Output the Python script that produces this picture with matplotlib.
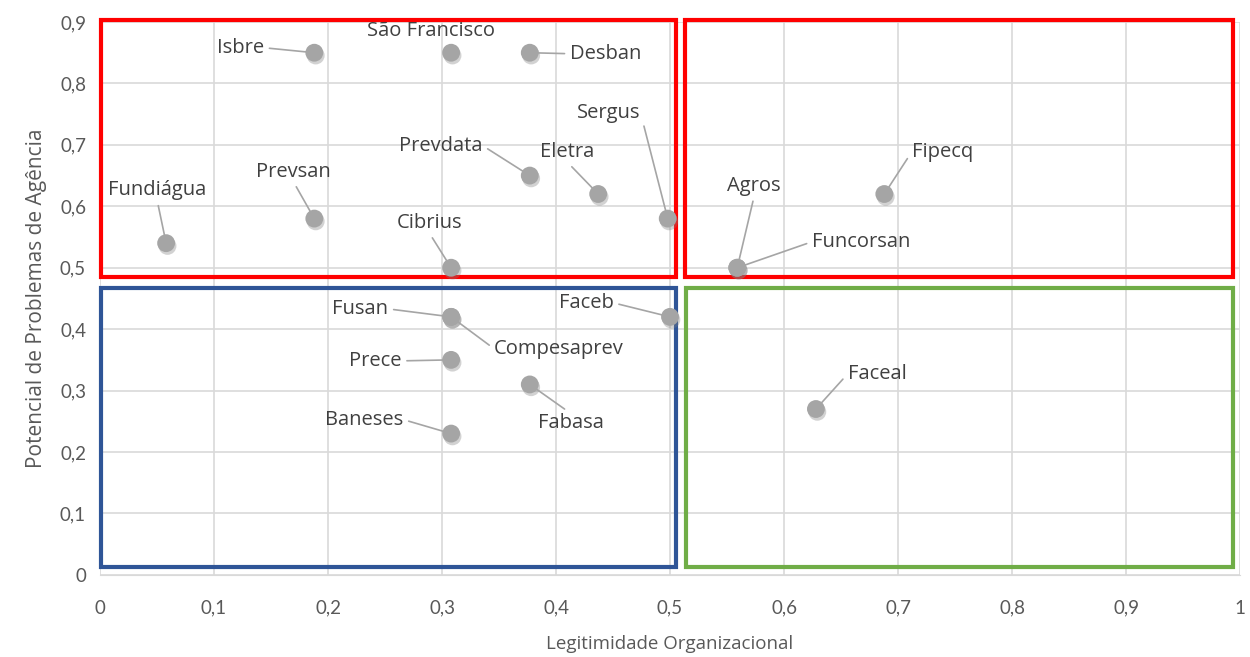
import matplotlib
matplotlib.use("Agg")
import matplotlib.pyplot as plt
import matplotlib.patheffects as pe
from matplotlib.patches import Rectangle

plt.rcParams['font.family'] = ['Lato', 'DejaVu Sans']

names = ['Isbre', 'São Francisco', 'Desban', 'Fundiágua', 'Prevsan', 'Cibrius',
         'Prevdata', 'Eletra', 'Sergus', 'Agros', 'Funcorsan', 'Fipecq',
         'Fusan', 'Compesaprev', 'Faceb', 'Prece', 'Fabasa', 'Baneses', 'Faceal']
legitimidade = [0.188, 0.308, 0.377, 0.058, 0.188, 0.308,
                0.377, 0.437, 0.498, 0.559, 0.559, 0.688,
                0.308, 0.308, 0.5, 0.308, 0.377, 0.308, 0.628]
potencial = [0.85, 0.85, 0.85, 0.54, 0.58, 0.50,
             0.65, 0.62, 0.58, 0.50, 0.50, 0.62,
             0.42, 0.42, 0.42, 0.35, 0.31, 0.23, 0.27]

x_ticks = [0, 0.1, 0.2, 0.3, 0.4, 0.5, 0.6, 0.7, 0.8, 0.9, 1.0]
y_ticks = [0, 0.1, 0.2, 0.3, 0.4, 0.5, 0.6, 0.7, 0.8, 0.9]

# label placement: offset in pixels from the point, and where the leader leaves the text
label_pos = {
    'Isbre': ((-74, 5), (1, 0.5)),
    'São Francisco': ((-20, 22), None),
    'Desban': ((76, -1), (0, 0.5)),
    'Fundiágua': ((-9, 53), (0.5, 0)),
    'Prevsan': ((-21, 47), (0.5, 0)),
    'Cibrius': ((-22, 45), (0.5, 0)),
    'Prevdata': ((-89, 30), (1, 0.5)),
    'Eletra': ((-31, 42), (0.5, 0)),
    'Sergus': ((-59, 106), (1, 0.5)),
    'Agros': ((17, 82), (0.5, 0)),
    'Funcorsan': ((124, 26), (0, 0.5)),
    'Fipecq': ((58, 42), (0, 0.5)),
    'Fusan': ((-91, 8), (1, 0.5)),
    'Compesaprev': ((108, -32), (0, 0.5)),
    'Faceb': ((-84, 14), (1, 0.5)),
    'Prece': ((-76, -1), (1, 0.5)),
    'Fabasa': ((41, -39), (0.5, 1)),
    'Baneses': ((-87, 14), (1, 0.5)),
    'Faceal': ((61, 35), (0, 0.5)),
}

fig = plt.figure(figsize=(12.5, 6.57), dpi=100)
ax = fig.add_axes([0.08, 0.125, 0.912, 0.8415])

ax.set_xlim(0, 1)
ax.set_ylim(0, 0.9)
ax.set_xticks(x_ticks)
ax.set_yticks(y_ticks)
fmt = lambda v: '0' if v == 0 else ('1' if v == 1 else f'{v:.1f}'.replace('.', ','))
ax.set_xticklabels([fmt(v) for v in x_ticks])
ax.set_yticklabels([fmt(v) for v in y_ticks])
ax.tick_params(length=0, labelsize=13.5, labelcolor='#595959', pad=10)
ax.tick_params(axis='x', pad=18)
ax.grid(True, color='#D9D9D9', linewidth=1.2)
ax.set_axisbelow(True)
for side in ['top', 'right', 'left']:
    ax.spines[side].set_visible(False)
ax.spines['bottom'].set_color('#D9D9D9')

ax.set_xlabel('Legitimidade Organizacional', fontsize=13.5, color='#595959',
              labelpad=13, family=['Open Sans', 'DejaVu Sans'])
ax.set_ylabel('Potencial de Problemas de Agência', fontsize=15, color='#595959',
              labelpad=9, family=['Open Sans', 'DejaVu Sans'])

pts = ax.scatter(legitimidade, potencial, s=165, color='#A5A5A5', zorder=4,
                 edgecolors='none')
pts.set_path_effects([pe.SimplePatchShadow(offset=(1, -2), shadow_rgbFace='#7F7F7F', alpha=0.35),
                      pe.Normal()])

for name, x, y in zip(names, legitimidade, potencial):
    offset, rel = label_pos[name]
    arrow = None
    if rel is not None:
        arrow = dict(arrowstyle='-', color='#A5A5A5', lw=1.2, relpos=rel,
                     shrinkA=2, shrinkB=5)
    ax.annotate(name, (x, y), xytext=offset, textcoords='offset pixels',
                ha='center', va='center', fontsize=14.5, color='#404040',
                family=['Open Sans', 'DejaVu Sans'],
                arrowprops=arrow, zorder=5, annotation_clip=False)

# quadrant frames
boxes = [
    ((0.001, 0.485), 0.504, 0.418, '#FF0000'),
    ((0.513, 0.485), 0.481, 0.418, '#FF0000'),
    ((0.001, 0.013), 0.504, 0.454, '#2F5597'),
    ((0.514, 0.013), 0.480, 0.454, '#70AD47'),
]
for (x0, y0), w, h, c in boxes:
    ax.add_patch(Rectangle((x0, y0), w, h, fill=False, edgecolor=c, linewidth=3,
                           zorder=3, clip_on=False))

fig.savefig('out.png', dpi=100)
